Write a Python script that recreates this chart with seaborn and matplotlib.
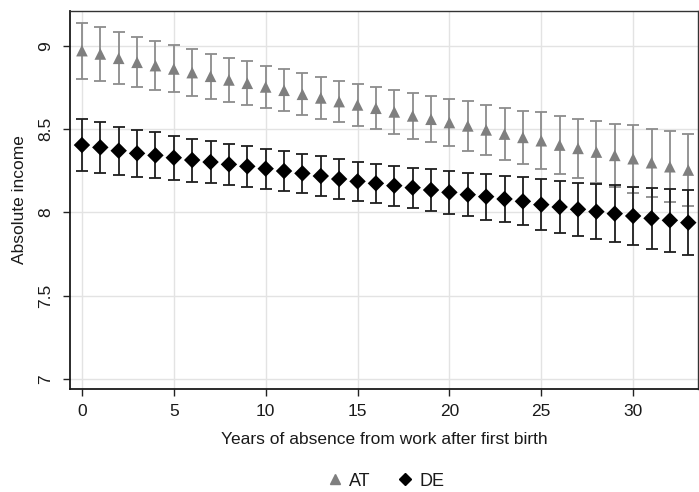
import numpy as np
import pandas as pd
import matplotlib
matplotlib.use("Agg")
import matplotlib.pyplot as plt
import seaborn as sns
from matplotlib.lines import Line2D

years = list(range(34))

at_mean = [8.972, 8.952, 8.926, 8.902, 8.882, 8.862, 8.840, 8.818, 8.796, 8.776,
           8.754, 8.734, 8.710, 8.688, 8.666, 8.646, 8.626, 8.604, 8.580, 8.560,
           8.540, 8.520, 8.496, 8.471, 8.451, 8.431, 8.405, 8.385, 8.363, 8.343,
           8.323, 8.299, 8.275, 8.255]
at_half = [0.168, 0.161, 0.155, 0.151, 0.145, 0.141, 0.141, 0.135, 0.131, 0.131,
           0.127, 0.127, 0.127, 0.124, 0.125, 0.128, 0.127, 0.132, 0.138, 0.138,
           0.142, 0.148, 0.152, 0.158, 0.161, 0.170, 0.176, 0.179, 0.186, 0.190,
           0.203, 0.205, 0.213, 0.218]

de_mean = [8.405, 8.391, 8.371, 8.355, 8.343, 8.329, 8.315, 8.303, 8.289, 8.277,
           8.263, 8.249, 8.235, 8.219, 8.201, 8.187, 8.175, 8.161, 8.149, 8.135,
           8.121, 8.107, 8.095, 8.081, 8.067, 8.047, 8.033, 8.019, 8.005, 7.993,
           7.979, 7.965, 7.953, 7.939]
de_half = [0.155, 0.152, 0.145, 0.142, 0.138, 0.132, 0.129, 0.128, 0.121, 0.122,
           0.119, 0.118, 0.118, 0.119, 0.118, 0.118, 0.119, 0.120, 0.120, 0.129,
           0.129, 0.130, 0.138, 0.138, 0.145, 0.152, 0.155, 0.161, 0.165, 0.172,
           0.175, 0.182, 0.188, 0.195]

x_ticks = [0, 5, 10, 15, 20, 25, 30]
y_ticks = [7, 7.5, 8, 8.5, 9]
y_tick_labels = ["7", "7.5", "8", "8.5", "9"]

sns.set_style("white")
plt.rcParams['font.family'] = ['Liberation Sans', 'DejaVu Sans']

df = pd.DataFrame({
    "year": years * 2,
    "income": at_mean + de_mean,
    "half": at_half + de_half,
    "country": ["AT"] * len(years) + ["DE"] * len(years),
})

fig = plt.figure(figsize=(6.99, 4.92), dpi=100)
ax = fig.add_axes([70 / 699, 1 - 389 / 492, 628 / 699, 378 / 492])

styles = {"AT": dict(color="#7f7f7f", ecolor="#8c8c8c", marker="^"),
          "DE": dict(color="#000000", ecolor="#1e1e1e", marker="D")}

for c in ["AT", "DE"]:
    sub = df[df.country == c]
    ax.errorbar(sub["year"], sub["income"], yerr=sub["half"], fmt="none",
                ecolor=styles[c]["ecolor"], elinewidth=1.3, capsize=4.2,
                capthick=1.3, zorder=2)

sns.scatterplot(data=df, x="year", y="income", hue="country", style="country",
                palette={"AT": "#7f7f7f", "DE": "#000000"},
                markers={"AT": "^", "DE": "D"}, s=70, edgecolor="none",
                linewidth=0, ax=ax, legend=False, zorder=3)

ax.set_xlim(-0.65, 33.53)
ax.set_ylim(6.94, 9.21)
ax.set_xticks(x_ticks)
ax.set_yticks(y_ticks)
ax.set_yticklabels(y_tick_labels, rotation=90, va="center")
ax.grid(True, color="#e3e3e3", linewidth=1.0)
ax.set_axisbelow(True)
ax.tick_params(axis="both", which="both", direction="out", length=5, width=1,
               color="#222222", labelsize=12.5, labelcolor="#1a1a1a",
               bottom=True, left=True, pad=6)
ax.tick_params(axis="y", pad=7)
for side in ["left", "bottom"]:
    ax.spines[side].set_color("#1a1a1a")
    ax.spines[side].set_linewidth(1.3)
for side in ["top", "right"]:
    ax.spines[side].set_color("#333333")
    ax.spines[side].set_linewidth(1.0)

ax.set_xlabel("Years of absence from work after first birth", fontsize=12.5,
              color="#1a1a1a", labelpad=9)
ax.set_ylabel("Absolute income", fontsize=12.5, color="#1a1a1a", labelpad=8)

handles = [Line2D([], [], linestyle="none", marker="^", color="#7f7f7f",
                  markersize=7, label="AT"),
           Line2D([], [], linestyle="none", marker="D", color="#000000",
                  markersize=6, label="DE")]
fig.legend(handles=handles, loc="center", bbox_to_anchor=(385 / 699, 1 - 481 / 492),
           ncol=2, frameon=False, fontsize=13, handletextpad=0.3,
           columnspacing=1.4, handlelength=1.0, labelcolor="#1a1a1a")

fig.savefig("out.png", dpi=100)
